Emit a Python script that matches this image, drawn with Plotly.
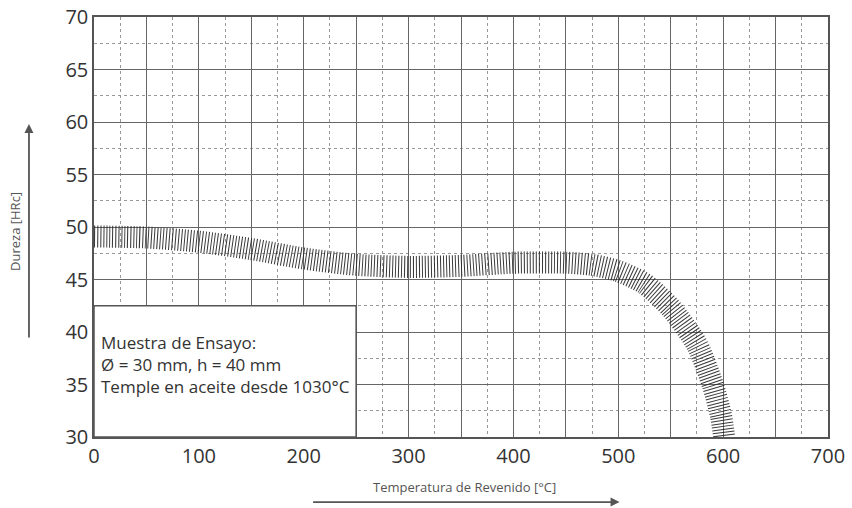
import plotly.graph_objects as go

# Curva de dureza (centro de la banda)
temperatura = [0, 50, 100, 150, 200, 250, 300, 350, 400, 450, 475, 500, 525, 550, 575, 590, 598, 601]
dureza = [49.1, 49.0, 48.6, 47.9, 47.0, 46.4, 46.2, 46.3, 46.6, 46.6, 46.4, 45.8, 44.6, 42.3, 38.8, 35.0, 32.0, 30.0]

x_ticks = [0, 100, 200, 300, 400, 500, 600, 700]
y_ticks = [30, 35, 40, 45, 50, 55, 60, 65, 70]

texto_muestra = ["Muestra de Ensayo:", "Ø = 30 mm, h = 40 mm", "Temple en aceite desde 1030°C"]

fuente = "Open Sans, Noto Sans, sans-serif"
gris = "#555"

fig = go.Figure()

# banda rayada: linea gruesa con trazos cortos -> rayas perpendiculares
fig.add_trace(go.Scatter(
    x=temperatura, y=dureza,
    mode="lines",
    line=dict(color="rgba(35,35,35,0.9)", width=22, dash="1px,2px", shape="spline", smoothing=0.7),
    showlegend=False, hoverinfo="skip",
))

eje = dict(
    showline=True, mirror=True, linecolor=gris, linewidth=1.5,
    showgrid=True, gridcolor="#666", gridwidth=1.3,
    zeroline=False, ticks="", automargin=False,
    tickfont=dict(family=fuente, size=20, color="#333"),
)

# lineas mayores cada 50 grados, etiquetas cada 100
fig.update_xaxes(
    **eje, range=[0, 700], tickmode="linear", tick0=0, dtick=50, ticklabelstep=2,
    minor=dict(dtick=25, tick0=0, showgrid=True, gridcolor="#999", gridwidth=1, griddash="dot"),
)
fig.update_yaxes(
    **eje, range=[30, 70], tickvals=y_ticks,
    minor=dict(dtick=2.5, tick0=30, showgrid=True, gridcolor="#999", gridwidth=1, griddash="dot"),
)

# recuadro con la descripcion de la muestra
fig.add_shape(type="rect", xref="x", yref="y", x0=0, x1=250, y0=30, y1=42.5,
              fillcolor="white", line=dict(color=gris, width=1.5), layer="above")

for i, linea in enumerate(texto_muestra):
    fig.add_annotation(x=5, y=39.0 - i * 2.1, xref="x", yref="y", text=linea,
                       showarrow=False, xanchor="left", yanchor="middle",
                       font=dict(family=fuente, size=17, color="#333"))

# titulos de ejes con flechas
fig.add_annotation(x=-0.108, y=0.49, xref="paper", yref="paper", text="Dureza [HRc]",
                   textangle=-90, showarrow=False, xanchor="center", yanchor="middle",
                   font=dict(family=fuente, size=13, color="#555"))
fig.add_annotation(x=-0.0886, y=0.745, xref="paper", yref="paper", text="",
                   showarrow=True, ax=0, ay=215, arrowhead=2, arrowsize=1,
                   arrowwidth=1.8, arrowcolor="#555")
fig.add_annotation(x=0.505, y=-0.12, xref="paper", yref="paper",
                   text="Temperatura de Revenido [°C]", showarrow=False,
                   xanchor="center", yanchor="middle",
                   font=dict(family=fuente, size=13, color="#555"))
fig.add_annotation(x=0.716, y=-0.155, xref="paper", yref="paper", text="",
                   showarrow=True, ax=-308, ay=0, arrowhead=2, arrowsize=1,
                   arrowwidth=1.8, arrowcolor="#555")

fig.update_layout(
    width=852, height=508,
    margin=dict(l=94, r=24, t=17, b=71, autoexpand=False),
    paper_bgcolor="white", plot_bgcolor="white",
    font=dict(family=fuente),
)

# quitar el margen de 8px del body para que la figura ocupe toda la ventana
fig.write_html("out.html", config={"displayModeBar": False},
               post_script="document.body.style.margin='0';")
